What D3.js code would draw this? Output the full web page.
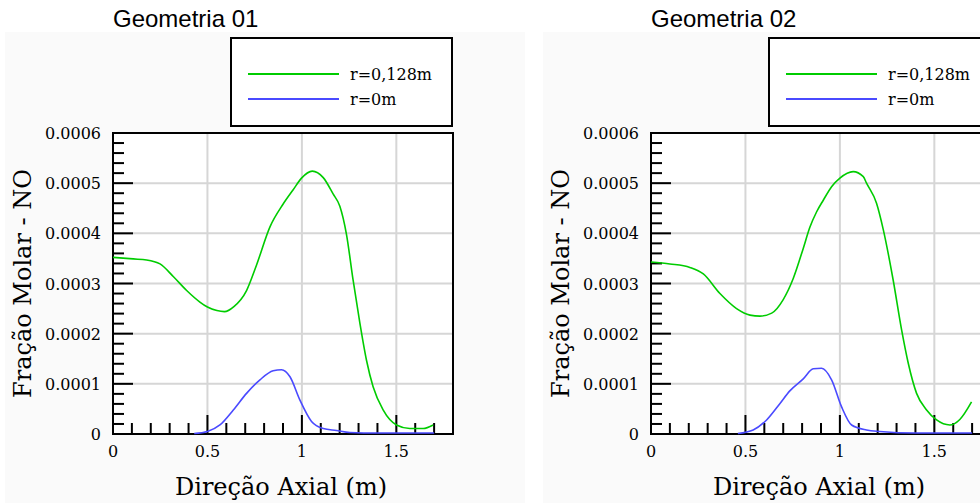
<!DOCTYPE html>
<html>
<head>
<meta charset="utf-8">
<script src="https://cdn.jsdelivr.net/npm/d3@7"></script>
<style>
  html, body { margin: 0; padding: 0; background: #ffffff; }
  svg { display: block; }
  .tick-label { font-family: "DejaVu Serif", serif; font-size: 16px; fill: #000; }
  .axis-title { font-family: "DejaVu Serif", serif; font-size: 24px; fill: #000; }
  .legend-label { font-family: "DejaVu Serif", serif; font-size: 16px; fill: #000; }
  .panel-title { font-family: "Liberation Sans", Arial, sans-serif; font-size: 24px; fill: #000; }
</style>
</head>
<body>
<svg id="chart" width="980" height="503"></svg>
<script>
// Axis ticks (values and their printed labels)
const xMajorTicks = [0, 0.5, 1, 1.5];
const xMajorLabels = ["0", "0.5", "1", "1.5"];
const yMajorTicks = [0, 0.0001, 0.0002, 0.0003, 0.0004, 0.0005, 0.0006];
const yMajorLabels = ["0", "0.0001", "0.0002", "0.0003", "0.0004", "0.0005", "0.0006"];

const seriesNames = ["r=0,128m", "r=0m"];
const seriesColors = ["#00cc00", "#4a4aff"];
const panelTitles = ["Geometria 01", "Geometria 02"];

// Geometria 01 — wall (r = 0,128 m)
const geo01WallX = [0, 0.107, 0.178, 0.249, 0.319, 0.39, 0.46, 0.5, 0.55, 0.59, 0.64, 0.707, 0.76, 0.831, 0.9, 0.954, 0.998, 1.055, 1.113, 1.166, 1.201, 1.236, 1.271, 1.307, 1.342, 1.377, 1.43, 1.501, 1.571, 1.642, 1.695];
const geo01WallY = [0.000352, 0.000349, 0.000347, 0.000339, 0.000314, 0.000286, 0.000263, 0.000253, 0.000246, 0.000244, 0.000254, 0.000286, 0.000337, 0.000413, 0.000458, 0.000487, 0.000510, 0.000524, 0.000511, 0.000478, 0.000454, 0.000398, 0.000307, 0.000221, 0.000147, 0.000094, 0.000048, 0.000018, 0.000011, 0.000011, 0.000018];

// Geometria 01 — centreline (r = 0 m)
const geo01CenterX = [0.43, 0.5, 0.566, 0.637, 0.707, 0.778, 0.848, 0.892, 0.937, 0.989, 1.051, 1.113, 1.183, 1.254, 1.4, 1.7];
const geo01CenterY = [0.000001, 0.000005, 0.000018, 0.000048, 0.000081, 0.000108, 0.000126, 0.000128, 0.000114, 0.000068, 0.000025, 0.000011, 0.000007, 0.000003, 0.000002, 0.000002];

// Geometria 02 — wall (r = 0,128 m)
const geo02WallX = [0, 0.1, 0.206, 0.277, 0.365, 0.453, 0.524, 0.577, 0.639, 0.7, 0.753, 0.806, 0.841, 0.877, 0.912, 0.956, 1.0, 1.07, 1.124, 1.141, 1.194, 1.23, 1.282, 1.327, 1.362, 1.406, 1.459, 1.512, 1.582, 1.635, 1.697];
const geo02WallY = [0.000343, 0.000339, 0.000332, 0.000319, 0.000280, 0.000250, 0.000237, 0.000235, 0.000241, 0.000268, 0.000310, 0.000370, 0.000412, 0.000443, 0.000466, 0.000493, 0.000510, 0.000523, 0.000513, 0.000500, 0.000460, 0.000407, 0.000307, 0.000207, 0.000141, 0.000081, 0.000048, 0.000028, 0.000018, 0.000029, 0.000064];

// Geometria 02 — centreline (r = 0 m)
const geo02CenterX = [0.46, 0.541, 0.612, 0.683, 0.735, 0.806, 0.859, 0.903, 0.956, 1.009, 1.062, 1.141, 1.212, 1.4, 1.7];
const geo02CenterY = [0.000001, 0.000008, 0.000028, 0.000061, 0.000086, 0.000110, 0.000130, 0.000131, 0.000108, 0.000054, 0.000018, 0.000008, 0.000005, 0.000002, 0.000002];

const panels = [
  { title: panelTitles[0], offset: 0,
    series: [ { x: geo01WallX, y: geo01WallY }, { x: geo01CenterX, y: geo01CenterY } ] },
  { title: panelTitles[1], offset: 538,
    series: [ { x: geo02WallX, y: geo02WallY }, { x: geo02CenterX, y: geo02CenterY } ] }
];

const svg = d3.select("#chart");

// Layout of one panel (the second one is the same, shifted right)
const plot = { left: 113, top: 133, width: 340, height: 301 };

panels.forEach(p => {
  const g = svg.append("g").attr("transform", `translate(${p.offset},0)`);

  // faint grey backdrop of the panel
  g.append("rect").attr("x", 5).attr("y", 32).attr("width", 520).attr("height", 471)
    .attr("fill", "#fafafa");

  const x = d3.scaleLinear().domain([0, 1.8]).range([plot.left, plot.left + plot.width]);
  const y = d3.scaleLinear().domain([0, 0.0006]).range([plot.top + plot.height, plot.top]);

  // plot area
  g.append("rect").attr("x", plot.left).attr("y", plot.top)
    .attr("width", plot.width).attr("height", plot.height).attr("fill", "#ffffff");

  // grid
  g.selectAll(".vgrid").data(xMajorTicks.filter(v => v > 0)).join("line")
    .attr("x1", d => x(d)).attr("x2", d => x(d))
    .attr("y1", plot.top).attr("y2", plot.top + plot.height)
    .attr("stroke", "#d6d6d6").attr("stroke-width", 2);
  g.selectAll(".hgrid").data(yMajorTicks.filter(v => v > 0 && v < 0.0006)).join("line")
    .attr("x1", plot.left).attr("x2", plot.left + plot.width)
    .attr("y1", d => y(d)).attr("y2", d => y(d))
    .attr("stroke", "#d6d6d6").attr("stroke-width", 2);

  // inward ticks: x every 0.1 (long at 0.5), y every 0.00002 (long at 0.0001)
  const xMinor = x.ticks(18).filter(v => v > 0.001 && v < 1.79);
  g.selectAll(".xtick").data(xMinor).join("line")
    .attr("x1", d => x(d)).attr("x2", d => x(d))
    .attr("y1", plot.top + plot.height)
    .attr("y2", d => plot.top + plot.height - (xMajorTicks.some(m => Math.abs(m - d) < 1e-6) ? 19 : 11))
    .attr("stroke", "#000").attr("stroke-width", 2);
  const yMinor = y.ticks(30).filter(v => v > 1e-9 && v < 0.00059);
  g.selectAll(".ytick").data(yMinor).join("line")
    .attr("x1", plot.left)
    .attr("x2", d => plot.left + (yMajorTicks.some(m => Math.abs(m - d) < 1e-9) ? 20 : 11))
    .attr("y1", d => y(d)).attr("y2", d => y(d))
    .attr("stroke", "#000").attr("stroke-width", 2);

  // frame
  g.append("rect").attr("x", plot.left).attr("y", plot.top)
    .attr("width", plot.width).attr("height", plot.height)
    .attr("fill", "none").attr("stroke", "#000").attr("stroke-width", 2);

  // tick labels
  g.selectAll(".xlabel").data(xMajorTicks).join("text")
    .attr("class", "tick-label")
    .attr("x", d => x(d)).attr("y", plot.top + plot.height + 23)
    .attr("text-anchor", "middle")
    .text((d, i) => xMajorLabels[i]);
  g.selectAll(".ylabel").data(yMajorTicks).join("text")
    .attr("class", "tick-label")
    .attr("x", plot.left - 12).attr("y", d => y(d) + 6)
    .attr("text-anchor", "end")
    .text((d, i) => yMajorLabels[i]);

  // axis titles
  g.append("text").attr("class", "axis-title")
    .attr("x", plot.left + plot.width / 2 - 2).attr("y", 495)
    .attr("text-anchor", "middle").text("Direção Axial (m)");
  g.append("text").attr("class", "axis-title")
    .attr("transform", `translate(31,${plot.top + plot.height / 2}) rotate(-90)`)
    .attr("text-anchor", "middle").text("Fração Molar - NO");

  // panel title
  g.append("text").attr("class", "panel-title")
    .attr("x", 113).attr("y", 27).text(p.title);

  // data lines
  const line = d3.line().x(d => x(d[0])).y(d => y(d[1])).curve(d3.curveMonotoneX);
  p.series.forEach((s, i) => {
    const pts = s.x.map((xv, k) => [xv, s.y[k]]);
    g.append("path").datum(pts)
      .attr("d", line)
      .attr("fill", "none")
      .attr("stroke", seriesColors[i])
      .attr("stroke-width", 1.6);
  });

  // legend
  const lg = g.append("g");
  lg.append("rect").attr("x", 231).attr("y", 38).attr("width", 221).attr("height", 88)
    .attr("fill", "#ffffff").attr("stroke", "#000").attr("stroke-width", 2);
  seriesNames.forEach((name, i) => {
    const ly = 74 + i * 25;
    lg.append("line").attr("x1", 248).attr("x2", 339).attr("y1", ly).attr("y2", ly)
      .attr("stroke", seriesColors[i]).attr("stroke-width", 2);
    lg.append("text").attr("class", "legend-label")
      .attr("x", 350).attr("y", ly + 6).text(name);
  });
});
</script>
</body>
</html>
